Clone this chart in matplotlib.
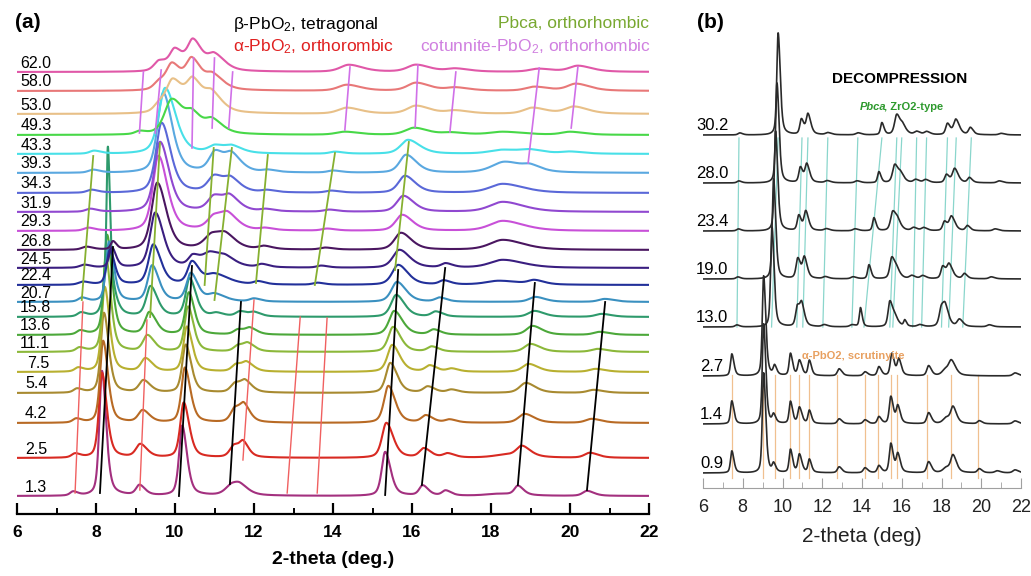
import numpy as np
import matplotlib
matplotlib.use("Agg")
from matplotlib import pyplot as plt

plt.rcParams['font.family'] = ['Liberation Sans', 'DejaVu Sans']
plt.rcParams['mathtext.fontset'] = 'custom'
plt.rcParams['mathtext.rm'] = 'Liberation Sans'
plt.rcParams['mathtext.default'] = 'regular'

W, H = 1031, 576

# ---------------- panel (a): compression ----------------
pressures_a = ['1.3', '2.5', '4.2', '5.4', '7.5', '11.1', '13.6', '15.8', '20.7', '22.4', '24.5',
               '26.8', '29.3', '31.9', '34.3', '39.3', '43.3', '49.3', '53.0', '58.0', '62.0']
offsets_a = [18, 56, 91, 121, 142, 162, 179, 197, 212, 229, 246,
             264, 283, 302, 321, 341, 360, 379, 400, 423, 442]
colors_a = ['#a3307f', '#d82a22', '#b86a24', '#a88a30', '#b8b030', '#8cb83a', '#4ca83a',
            '#2e9a6c', '#3a90c0', '#22309a', '#3a1e80', '#4a1660', '#c850d8', '#9048d0',
            '#5a68d8', '#5aa8e0', '#48e0e8', '#48d848', '#e8c088', '#e87878', '#e058a8']
label_x_a = [6.2, 6.2, 6.2, 6.2, 6.25, 6.08, 6.08, 6.08, 6.08, 6.08, 6.08,
             6.08, 6.08, 6.08, 6.08, 6.08, 6.08, 6.08, 6.08, 6.08, 6.08]

# peaks: (2-theta, height, half width)
peaks_a = [
    [(7.42, 4, .07), (8.15, 125, .06), (9.10, 10, .08), (10.18, 70, .07), (11.45, 11, .15), (11.65, 5, .12),
     (15.32, 44, .08), (16.27, 10, .08), (16.85, 5, .08), (18.2, 2, .3), (18.68, 9, .08), (20.43, 5, .1)],
    [(7.47, 4, .08), (8.15, 85, .07), (9.12, 13, .1), (10.22, 55, .08), (11.5, 12, .1), (11.73, 12, .08),
     (15.35, 35, .1), (16.3, 9, .1), (16.9, 4, .1), (18.4, 3, .3), (18.78, 10, .12), (20.5, 5, .12)],
    [(7.5, 4, .08), (8.18, 82, .07), (9.18, 12, .1), (10.25, 55, .08), (11.52, 14, .1), (11.75, 14, .09),
     (15.4, 37, .1), (16.35, 7, .1), (16.95, 3, .1), (18.85, 9, .14), (20.55, 4, .14)],
    [(7.52, 4, .08), (8.2, 80, .07), (9.2, 12, .1), (10.27, 48, .08), (11.52, 9, .1), (11.78, 10, .1),
     (15.45, 30, .1), (16.4, 6, .1), (17.0, 3, .1), (18.88, 10, .14), (20.6, 3, .14)],
    [(7.55, 4, .08), (8.22, 85, .07), (9.25, 13, .1), (10.3, 45, .08), (11.55, 7, .1), (11.82, 8, .1),
     (15.5, 27, .11), (16.45, 6, .1), (17.0, 3, .1), (18.95, 8, .14), (20.65, 3, .14)],
    [(7.58, 4, .08), (8.25, 95, .07), (9.3, 16, .1), (10.33, 45, .08), (11.6, 6, .1), (11.85, 7, .1),
     (15.52, 25, .11), (16.5, 5, .1), (19.0, 8, .14), (20.7, 3, .14)],
    [(7.6, 4, .08), (8.28, 100, .07), (9.35, 22, .1), (10.35, 42, .08), (11.6, 5, .1), (11.9, 6, .1),
     (15.55, 24, .12), (16.55, 5, .1), (19.05, 9, .14), (20.75, 3, .14)],
    [(7.62, 4, .08), (8.3, 130, .03), (8.3, 40, .09), (9.38, 30, .1), (10.37, 38, .09), (11.05, 3, .1),
     (11.65, 5, .1), (12.0, 4, .1), (15.6, 22, .12), (16.6, 5, .1), (19.1, 6, .14), (20.8, 3, .14)],
    [(7.64, 4, .08), (8.33, 60, .07), (9.42, 36, .1), (10.4, 28, .1), (11.0, 7, .15), (12.0, 3, .1),
     (15.62, 20, .13), (16.7, 4, .1), (19.12, 5, .14), (20.88, 3, .14)],
    [(7.67, 3, .1), (8.35, 35, .07), (9.45, 40, .11), (10.43, 22, .1), (11.0, 10, .2), (12.1, 3, .1),
     (13.6, 2, .1), (15.65, 20, .14), (16.8, 4, .1), (18.2, 4, .3), (19.1, 4, .14)],
    [(7.7, 3, .1), (8.4, 20, .06), (9.5, 55, .12), (10.45, 10, .1), (10.9, 14, .18), (11.3, 6, .15),
     (12.2, 3, .1), (13.7, 2, .1), (15.68, 18, .15), (16.85, 4, .1), (18.3, 8, .3)],
    [(7.75, 3, .1), (8.43, 8, .05), (9.55, 67, .13), (10.95, 15, .18), (11.3, 9, .15), (12.25, 3, .12),
     (13.8, 2, .12), (15.72, 17, .15), (18.3, 10, .3)],
    [(7.8, 3, .1), (9.58, 75, .13), (11.0, 14, .16), (11.35, 12, .15), (12.28, 2, .12), (13.85, 2, .12),
     (15.75, 16, .15), (18.3, 10, .3)],
    [(7.85, 3, .1), (9.62, 70, .13), (11.0, 15, .15), (11.4, 12, .14), (12.3, 2, .12), (13.9, 2, .12),
     (15.78, 16, .15), (18.3, 10, .3)],
    [(7.88, 3, .1), (9.66, 70, .13), (11.0, 16, .15), (11.42, 11, .14), (12.33, 2, .12), (13.95, 2, .12),
     (15.82, 17, .15), (18.3, 9, .3)],
    [(7.92, 3, .1), (9.7, 80, .13), (11.02, 20, .14), (11.44, 15, .14), (12.35, 2, .12), (14.0, 2, .12),
     (15.85, 18, .15), (18.35, 11, .3), (19.0, 4, .15)],
    [(7.95, 3, .1), (9.75, 66, .15), (11.02, 7, .15), (11.45, 6, .15), (14.05, 2, .12), (15.9, 14, .17),
     (18.3, 4, .3), (19.0, 3, .2), (20.0, 2, .2)],
    [(9.1, 3, .1), (9.92, 35, .17), (10.45, 16, .15), (10.95, 12, .15), (14.3, 3, .2), (16.05, 7, .2),
     (17.0, 2, .2), (18.3, 3, .3), (20.0, 3, .2)],
    [(9.6, 8, .12), (9.95, 31, .15), (10.46, 29, .15), (10.94, 16, .15), (14.35, 6, .2), (16.1, 8, .2),
     (17.1, 3, .2), (19.05, 6, .2), (20.1, 7, .2)],
    [(9.6, 8, .12), (9.93, 24, .13), (10.43, 29, .14), (10.96, 13, .15), (14.35, 6, .2), (16.1, 8, .2),
     (17.1, 3, .2), (19.1, 4, .2), (20.15, 7, .2)],
    [(9.6, 10, .12), (10.0, 20, .12), (10.46, 29, .13), (11.0, 15, .15), (14.4, 7, .2), (16.1, 7, .2),
     (17.1, 3, .2), (19.2, 3, .2), (20.2, 6, .2)],
]

# phase guide lines: x0, x1 (2-theta) and y0, y1 (stack height)
beta_x0 = [8.10, 10.10, 11.39, 15.32, 16.25, 18.68, 20.43]
beta_x1 = [8.43, 10.43, 11.67, 15.65, 16.84, 19.11, 20.89]
beta_y0 = [21, 18, 30, 19, 29, 29, 24]
beta_y1 = [267, 248, 212, 244, 246, 231, 212]
alpha_x0 = [7.47, 9.11, 11.72, 12.84, 13.60]
alpha_x1 = [7.67, 9.29, 12.00, 13.17, 13.85]
alpha_y0 = [21, 24, 54, 21, 21]
alpha_y1 = [212, 194, 214, 197, 196]
pbca_x0 = [7.64, 9.37, 10.75, 11.00, 12.05, 13.54, 15.57]
pbca_x1 = [7.93, 9.62, 10.98, 11.44, 12.35, 14.05, 15.92]
pbca_y0 = [214, 197, 229, 214, 231, 229, 244]
pbca_y1 = [358, 371, 366, 366, 359, 361, 372]
cot_x0 = [9.10, 9.50, 10.43, 10.94, 11.36, 14.30, 16.08, 16.96, 18.94, 20.03]
cot_x1 = [9.20, 9.65, 10.47, 11.00, 11.46, 14.43, 16.15, 17.11, 19.22, 20.20]
cot_y0 = [381, 381, 366, 386, 386, 384, 387, 382, 351, 386]
cot_y1 = [442, 444, 456, 456, 442, 447, 449, 442, 446, 447]

# ---------------- panel (b): decompression ----------------
pressures_b = ['0.9', '1.4', '2.7', '13.0', '19.0', '23.4', '28.0', '30.2']
offsets_b = [15, 64, 112, 161, 209, 257, 305, 353]
label_x_b = [5.85, 5.85, 5.85, 5.65, 5.65, 5.65, 5.65, 5.65]
peaks_b = [
    [(7.45, 22, .06), (9.05, 100, .06), (9.55, 8, .06), (10.4, 23, .06), (10.85, 18, .07), (11.35, 13, .06),
     (12.85, 6, .08), (14.15, 5, .08), (14.85, 7, .07), (15.45, 29, .07), (15.8, 18, .07), (17.35, 11, .08),
     (18.25, 5, .15), (18.58, 16, .1), (19.9, 4, .08), (20.8, 2, .1), (21.7, 3, .1)],
    [(7.45, 23, .06), (9.05, 100, .06), (9.55, 8, .06), (10.4, 22, .06), (10.85, 16, .07), (11.35, 13, .06),
     (12.85, 5, .08), (14.15, 4, .08), (14.85, 7, .07), (15.45, 27, .07), (15.8, 17, .07), (17.35, 11, .08),
     (18.25, 6, .15), (18.58, 15, .1), (19.9, 3, .08), (21.7, 3, .1)],
    [(7.45, 22, .06), (9.05, 100, .06), (9.6, 9, .06), (10.4, 22, .06), (10.85, 15, .07), (11.35, 15, .06),
     (12.85, 7, .08), (14.15, 4, .08), (14.85, 9, .07), (15.5, 22, .07), (15.85, 16, .07), (17.35, 10, .08),
     (18.2, 6, .15), (18.5, 13, .12), (21.7, 3, .1)],
    [(7.7, 2, .08), (9.47, 100, .06), (10.75, 20, .08), (10.97, 19, .08), (12.1, 2, .1), (13.5, 2, .1),
     (13.92, 19, .05), (15.4, 25, .08), (15.65, 8, .1), (16.15, 6, .05), (16.9, 2, .1), (18.0, 19, .1),
     (18.2, 14, .1), (18.9, 7, .1), (20.4, 2, .1)],
    [(7.75, 2, .08), (9.55, 100, .06), (10.77, 20, .08), (11.1, 20, .08), (12.15, 2, .1), (13.55, 2, .1),
     (14.35, 14, .06), (15.5, 21, .09), (15.75, 7, .1), (16.5, 3, .1), (17.05, 3, .1), (18.06, 12, .08),
     (18.38, 14, .1), (19.15, 5, .08), (20.5, 2, .1)],
    [(7.78, 2, .08), (9.65, 100, .06), (10.82, 15, .07), (11.17, 19, .08), (12.2, 2, .1), (13.65, 2, .1),
     (14.6, 13, .06), (15.55, 19, .1), (15.8, 7, .1), (16.6, 3, .1), (17.1, 3, .1), (18.15, 9, .08),
     (18.5, 14, .1), (19.3, 5, .08), (20.7, 2, .1)],
    [(7.8, 2, .08), (9.72, 100, .06), (10.9, 15, .07), (11.22, 18, .08), (12.25, 2, .1), (13.75, 2, .1),
     (14.85, 11, .06), (15.65, 18, .1), (15.95, 7, .1), (16.7, 3, .1), (17.2, 3, .1), (18.25, 8, .08),
     (18.66, 14, .1), (19.4, 5, .08), (20.9, 2, .1)],
    [(7.85, 2, .08), (9.78, 102, .06), (10.95, 15, .07), (11.28, 20, .08), (12.28, 2, .1), (13.8, 2, .1),
     (15.0, 12, .06), (15.75, 20, .1), (16.05, 7, .1), (16.75, 3, .1), (17.25, 3, .1), (18.3, 11, .08),
     (18.72, 15, .1), (19.45, 7, .08), (21.0, 1.5, .1)],
]
zro2_x0 = [7.71, 9.45, 10.72, 11.02, 12.03, 13.49, 14.10, 15.40, 15.55, 16.55, 17.00, 18.00, 18.36, 19.07]
zro2_x1 = [7.81, 9.78, 10.98, 11.28, 12.28, 13.79, 15.00, 15.75, 16.00, 16.75, 17.25, 18.30, 18.74, 19.50]
zro2_y = [161, 350]
scrut_x = [7.46, 9.0, 9.6, 10.4, 10.85, 11.35, 12.75, 14.15, 14.8, 15.45, 15.75, 17.25, 18.5, 19.85]
scrut_y = [10, 113]


def pattern(x, peaks, broad=1.0):
    y = np.zeros_like(x)
    for pos, h, w in peaks:
        w = w * broad
        ww = np.where(x < pos, w, 1.6 * w)
        d = (x - pos) / ww
        y += h * (0.5 * np.exp(-np.log(2) * d ** 2) + 0.5 / (1 + d ** 2))
    return y


x = np.linspace(6, 22, 3200)
fig = plt.figure(figsize=(W / 100, H / 100), dpi=100)

# panel (a)
ax = fig.add_axes([17 / W, (H - 514) / H, 632 / W, 504 / H])
for i in range(len(pressures_a)):
    ax.plot(x, pattern(x, peaks_a[i], 1.3) + offsets_a[i], color=colors_a[i], lw=1.5)
    ax.text(label_x_a[i], offsets_a[i] + 1.5, pressures_a[i], fontsize=11.5, ha='left', va='bottom')
for x0, x1, y0, y1 in zip(beta_x0, beta_x1, beta_y0, beta_y1):
    ax.plot([x0, x1], [y0, y1], color='black', lw=1.3)
for x0, x1, y0, y1 in zip(alpha_x0, alpha_x1, alpha_y0, alpha_y1):
    ax.plot([x0, x1], [y0, y1], color='#f06060', lw=1.0)
for x0, x1, y0, y1 in zip(pbca_x0, pbca_x1, pbca_y0, pbca_y1):
    ax.plot([x0, x1], [y0, y1], color='#86b030', lw=1.3)
for x0, x1, y0, y1 in zip(cot_x0, cot_x1, cot_y0, cot_y1):
    ax.plot([x0, x1], [y0, y1], color='#d070e8', lw=1.2)
ax.set_xlim(6, 22)
ax.set_ylim(0, 504)
for s in ['left', 'right', 'top']:
    ax.spines[s].set_visible(False)
ax.spines['bottom'].set_linewidth(1.6)
ax.set_yticks([])
ax.set_xticks(np.arange(6, 23, 2))
ax.set_xticks(np.arange(7, 22, 2), minor=True)
ax.tick_params(axis='x', which='major', direction='in', length=8, width=1.6, labelsize=12.5, pad=8)
ax.tick_params(axis='x', which='minor', direction='in', length=4, width=1.4)
for t in ax.get_xticklabels():
    t.set_fontweight('bold')
ax.set_xlabel('2-theta (deg.)', fontsize=14, fontweight='bold', labelpad=8)

fig.text(15 / W, 1 - 22 / H, '(a)', fontsize=15, fontweight='bold', va='center')
fig.text(233 / W, 1 - 24 / H, 'β-PbO$_2$, tetragonal', fontsize=12.5, va='center', color='black')
fig.text(233 / W, 1 - 47 / H, 'α-PbO$_2$, orthorombic', fontsize=12.5, va='center', color='#e02020')
fig.text(649 / W, 1 - 23 / H, 'Pbca, orthorhombic', fontsize=12.5, va='center', ha='right', color='#78a830')
fig.text(651 / W, 1 - 47 / H, 'cotunnite-PbO$_2$, orthorhombic', fontsize=12.5, va='center', ha='right',
         color='#d080e0')

# panel (b)
bx = fig.add_axes([703 / W, (H - 488) / H, 318 / W, 478 / H])
for x0, x1 in zip(zro2_x0, zro2_x1):
    bx.plot([x0, x1], zro2_y, color='#8ad6cc', lw=0.9)
for xs in scrut_x:
    bx.plot([xs, xs], scrut_y, color='#f0c090', lw=0.9)
for i in range(len(pressures_b)):
    bx.plot(x, pattern(x, peaks_b[i], 1.3) + offsets_b[i], color='#2a2a2a', lw=1.2)
    bx.text(label_x_b[i], offsets_b[i] + 2, pressures_b[i], fontsize=12, ha='left',
            va='bottom', clip_on=False)
bx.set_xlim(6, 22)
bx.set_ylim(0, 478)
for s in ['left', 'right', 'top']:
    bx.spines[s].set_visible(False)
bx.spines['bottom'].set_color('#a0a0a0')
bx.set_yticks([])
bx.set_xticks(np.arange(6, 23, 2))
bx.set_xticks(np.arange(7, 22, 2), minor=True)
bx.tick_params(axis='x', which='major', direction='in', length=7, color='#a0a0a0', labelsize=13,
               labelcolor='#222222', pad=8)
bx.tick_params(axis='x', which='minor', direction='in', length=4, color='#a0a0a0')
bx.set_xlabel('2-theta (deg)', fontsize=15, labelpad=8, color='#222222')

fig.text(697 / W, 1 - 22 / H, '(b)', fontsize=15, fontweight='bold', va='center')
fig.text(900 / W, 1 - 79 / H, 'DECOMPRESSION', fontsize=11, fontweight='bold', va='center', ha='center')
fig.text(860 / W, 1 - 107 / H, 'Pbca', fontsize=8, fontweight='bold', fontstyle='italic',
         va='center', ha='left', color='#2e9a2e')
fig.text(884 / W, 1 - 107 / H, ', ZrO2-type', fontsize=8, fontweight='bold',
         va='center', ha='left', color='#2e9a2e')
fig.text(853 / W, 1 - 356 / H, 'α-PbO2, scrutinyite', fontsize=8, fontweight='bold', va='center',
         ha='center', color='#e8a060')

fig.savefig('out.png', dpi=100)
